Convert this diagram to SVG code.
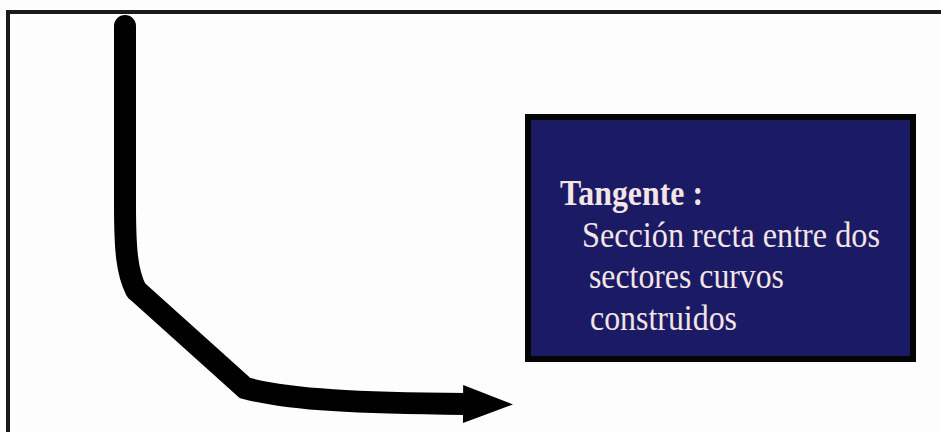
<svg xmlns="http://www.w3.org/2000/svg" width="941" height="432" viewBox="0 0 941 432">
<style>
.frame{fill:none;stroke:#1e1a1a;stroke-width:4}
.box{fill:#1b1a64;stroke:#050505;stroke-width:6}
.t{font-family:"Liberation Serif","Times New Roman",serif;fill:#f3e4e6;font-size:35px}
.b{font-weight:bold;font-size:35px}
.conn{fill:none;stroke:#000;stroke-width:22}
</style>
<defs>
<marker id="ah" markerUnits="userSpaceOnUse" markerWidth="52" markerHeight="40" viewBox="0 0 52 40" refX="3" refY="20" orient="auto">
<polygon points="0,1 50,20 0,39" fill="#000"/>
</marker>
</defs>
<rect x="0" y="0" width="941" height="432" fill="#fdfdfe"/>
<path class="frame" d="M8,432 L8,12 L941,12"/>
<g id="connectors">
<path class="conn" stroke-linecap="round" d="M125,26 L125,205 C125,250 127,272 136,290"/>
<path class="conn" d="M136,290 L245,388 C290,400 360,403 466,404" marker-end="url(#ah)"/>
</g>
<g id="tangente">
<rect class="box" x="528" y="117" width="385" height="242"/>
<text class="t b" x="560" y="205" textLength="143" lengthAdjust="spacingAndGlyphs">Tangente :</text>
<text class="t" x="582" y="247" textLength="298" lengthAdjust="spacingAndGlyphs">Sección recta entre dos</text>
<text class="t" x="589" y="288" textLength="195" lengthAdjust="spacingAndGlyphs">sectores curvos</text>
<text class="t" x="590" y="330" textLength="147" lengthAdjust="spacingAndGlyphs">construidos</text>
</g>
</svg>
